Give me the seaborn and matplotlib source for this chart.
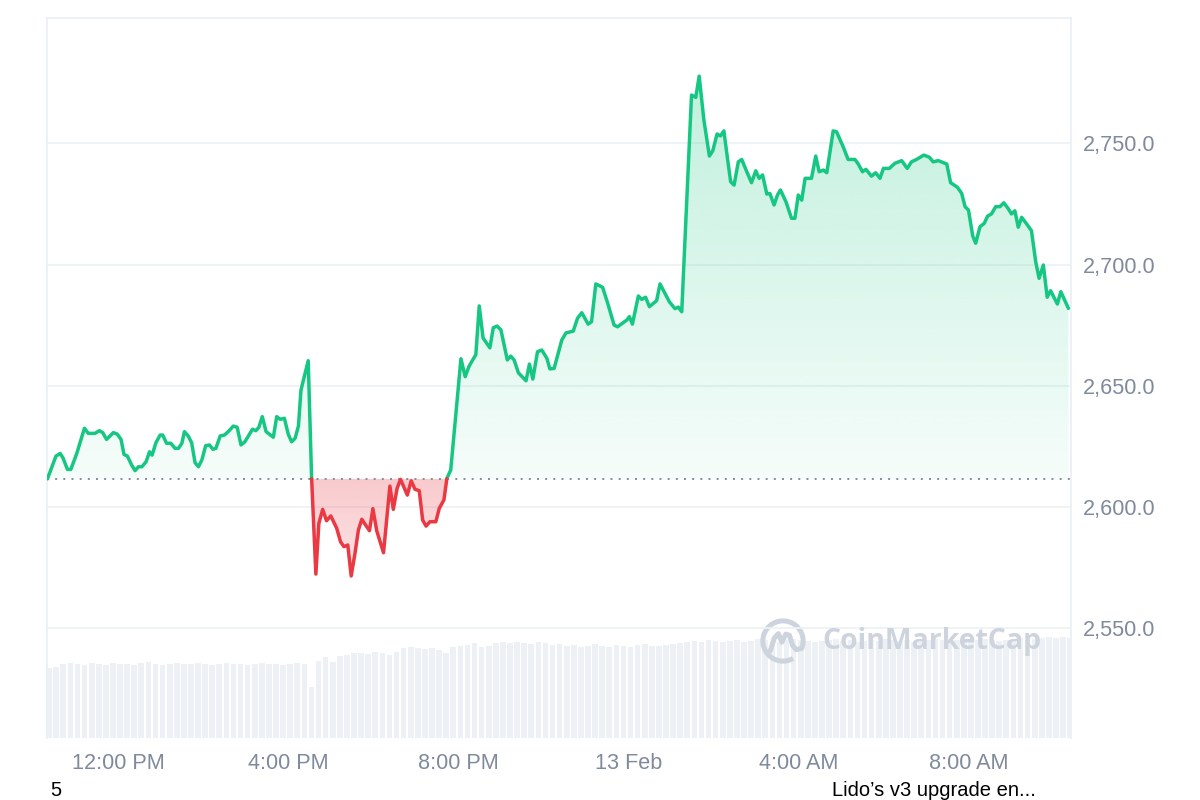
import numpy as np
import pandas as pd
import matplotlib
matplotlib.use("Agg")
import matplotlib.pyplot as plt
import matplotlib.colors as mcolors
from matplotlib.path import Path
from matplotlib.patches import Arc
import seaborn as sns

sns.set_theme(style="white")
plt.rcParams["font.family"] = ["Liberation Sans", "DejaVu Sans"]

# ---------------- data ----------------
# hours since 00:00 on 12 Feb
hours = [10.34, 10.54, 10.64, 10.71, 10.81, 10.89, 11.03, 11.21, 11.30, 11.46,
         11.56, 11.64, 11.73, 11.89, 11.98, 12.07, 12.14, 12.22, 12.32, 12.40,
         12.48, 12.56, 12.66, 12.74, 12.80, 12.89, 12.99, 13.05, 13.14, 13.24,
         13.34, 13.42, 13.50, 13.56, 13.65, 13.73, 13.81, 13.89, 13.97, 14.06,
         14.15, 14.23, 14.30, 14.40, 14.50, 14.59, 14.71, 14.80, 14.89, 14.98,
         15.16, 15.24, 15.31, 15.39, 15.48, 15.65, 15.73, 15.81, 15.91, 16.00,
         16.08, 16.16, 16.24, 16.30, 16.47, 16.55, 16.65, 16.72, 16.81, 16.90,
         17.00, 17.14, 17.23, 17.31, 17.40, 17.48, 17.57, 17.65, 17.73, 17.82,
         17.91, 17.99, 18.08, 18.24, 18.39, 18.47, 18.56, 18.64, 18.80, 18.89,
         18.98, 19.08, 19.16, 19.24, 19.33, 19.47, 19.55, 19.66, 19.73, 19.82,
         20.06, 20.16, 20.25, 20.41, 20.49, 20.58, 20.74, 20.82, 20.91, 21.00,
         21.15, 21.23, 21.31, 21.41, 21.59, 21.67, 21.75, 21.86, 21.96, 22.08,
         22.15, 22.25, 22.43, 22.53, 22.70, 22.80, 22.90, 23.05, 23.13, 23.23,
         23.39, 23.51, 23.66, 23.74, 23.96, 24.02, 24.09, 24.23, 24.31, 24.40,
         24.49, 24.66, 24.74, 24.96, 25.09, 25.17, 25.25, 25.48, 25.58, 25.66,
         25.77, 25.90, 25.98, 26.08, 26.16, 26.24, 26.32, 26.40, 26.48, 26.58,
         26.66, 26.78, 26.89, 26.99, 27.07, 27.15, 27.25, 27.32, 27.42, 27.50,
         27.57, 27.70, 27.83, 27.91, 27.99, 28.07, 28.15, 28.30, 28.40, 28.48,
         28.58, 28.66, 28.81, 28.89, 29.05, 29.16, 29.32, 29.40, 29.50, 29.58,
         29.71, 29.81, 29.91, 29.99, 30.13, 30.26, 30.42, 30.55, 30.65, 30.77,
         30.94, 31.07, 31.16, 31.28, 31.48, 31.57, 31.73, 31.83, 31.91, 31.99,
         32.09, 32.16, 32.26, 32.36, 32.44, 32.53, 32.63, 32.73, 32.82, 32.92,
         33.00, 33.08, 33.16, 33.24, 33.36, 33.47, 33.57, 33.65, 33.75, 33.84,
         33.92, 34.08, 34.16, 34.34]

prices = [2611.5, 2620.9, 2622.0, 2620.0, 2615.4, 2615.4, 2622.0, 2632.4, 2630.3, 2630.3,
          2631.4, 2630.6, 2627.8, 2630.6, 2630.0, 2627.8, 2621.6, 2620.9, 2617.2, 2614.9,
          2616.5, 2616.5, 2618.6, 2622.7, 2621.3, 2626.4, 2629.6, 2629.6, 2626.2, 2626.2,
          2624.1, 2624.1, 2626.2, 2631.0, 2629.2, 2626.4, 2618.2, 2616.5, 2619.3, 2625.2,
          2625.5, 2623.7, 2624.1, 2629.2, 2629.6, 2631.0, 2633.3, 2632.8, 2625.5, 2626.8,
          2632.0, 2631.4, 2632.8, 2637.2, 2631.0, 2628.7, 2637.2, 2636.1, 2636.5, 2630.0,
          2626.8, 2628.2, 2633.3, 2648.2, 2660.3, 2611.7, 2572.2, 2593.1, 2598.9, 2594.2,
          2596.2, 2591.1, 2585.5, 2583.5, 2584.2, 2571.4, 2580.8, 2590.4, 2594.8, 2592.4,
          2590.1, 2599.2, 2590.1, 2581.0, 2608.5, 2598.9, 2607.6, 2611.3, 2604.8, 2610.7,
          2607.2, 2606.6, 2594.5, 2592.0, 2593.8, 2593.8, 2599.3, 2602.8, 2611.7, 2615.2,
          2661.1, 2653.7, 2658.0, 2662.8, 2682.9, 2669.7, 2665.6, 2673.9, 2674.6, 2673.0,
          2660.6, 2662.2, 2660.6, 2655.3, 2652.0, 2658.9, 2652.7, 2664.0, 2664.7, 2661.3,
          2656.9, 2657.1, 2668.8, 2671.8, 2672.5, 2677.8, 2680.1, 2675.4, 2676.4, 2692.0,
          2690.6, 2684.0, 2675.0, 2674.3, 2677.1, 2678.5, 2675.4, 2687.0, 2685.6, 2686.5,
          2682.6, 2685.1, 2692.0, 2684.6, 2681.8, 2682.4, 2680.5, 2770.0, 2769.0, 2777.8,
          2759.7, 2744.8, 2747.0, 2753.9, 2753.1, 2755.2, 2744.5, 2734.2, 2732.8, 2742.4,
          2743.4, 2738.3, 2733.8, 2738.7, 2735.6, 2737.0, 2729.1, 2729.4, 2724.6, 2728.7,
          2730.8, 2725.9, 2719.1, 2719.1, 2728.7, 2726.6, 2735.6, 2735.6, 2744.8, 2738.3,
          2739.0, 2737.9, 2755.2, 2754.8, 2748.4, 2743.4, 2743.4, 2741.5, 2738.3, 2739.3,
          2736.5, 2737.9, 2735.6, 2739.7, 2739.7, 2741.8, 2742.9, 2739.7, 2742.4, 2743.4,
          2745.2, 2744.3, 2742.4, 2742.9, 2741.5, 2733.8, 2731.9, 2729.4, 2723.9, 2722.5,
          2711.8, 2708.8, 2715.6, 2717.0, 2720.0, 2720.9, 2723.9, 2723.9, 2725.5, 2723.2,
          2720.9, 2722.2, 2715.4, 2719.5, 2716.7, 2714.0, 2701.2, 2694.3, 2699.8, 2686.5,
          2689.2, 2683.7, 2688.8, 2681.9]

# volume bars (relative units), one per 10 minutes
volumes = [7.0, 7.1, 7.4, 7.5, 7.4, 7.3, 7.5, 7.4, 7.3, 7.5, 7.4, 7.4, 7.3, 7.5, 7.6, 7.4,
           7.3, 7.4, 7.5, 7.4, 7.4, 7.5, 7.4, 7.3, 7.4, 7.5, 7.4, 7.4, 7.3, 7.4, 7.5, 7.4,
           7.4, 7.3, 7.4, 7.5, 7.4,
           5.1,
           7.7, 8.1, 7.6, 8.2, 8.3, 8.5, 8.5, 8.4, 8.6, 8.5, 8.3, 8.6, 9.0, 9.1, 9.0, 8.9,
           9.0, 8.8, 8.5, 9.1, 9.2, 9.3, 9.5, 9.1, 9.2, 9.5, 9.6, 9.5, 9.6, 9.5, 9.4, 9.6,
           9.5, 9.3, 9.4,
           9.2, 9.3, 9.1, 9.2, 9.4, 9.2, 9.1, 9.3, 9.2, 9.1, 9.3, 9.4, 9.2, 9.2, 9.3, 9.4, 9.5,
           9.6, 9.7, 9.6, 9.8, 9.7, 9.6,
           9.7, 9.8, 9.6, 9.7, 9.9, 9.8, 9.7, 9.6, 9.8, 9.9, 9.8, 9.7, 9.6, 9.7, 9.8, 9.9,
           9.7, 9.8, 9.6, 9.7, 9.8, 9.7, 9.9, 9.8, 9.7, 9.8, 9.6, 9.7, 9.8, 9.9, 9.8, 9.7,
           9.8, 9.7, 9.6, 9.8, 9.9, 9.8, 9.7, 9.8, 9.9, 10.0, 9.8, 9.9, 10.0, 10.1, 10.0,
           10.1, 10.0]
vol_start_hour = 10.38
vol_step_hour = 1 / 6

x_tick_hours = [12, 16, 20, 24, 28, 32]
x_tick_labels = ["12:00 PM", "4:00 PM", "8:00 PM", "13 Feb", "4:00 AM", "8:00 AM"]
y_ticks = [2550.0, 2600.0, 2650.0, 2700.0, 2750.0]
news_left = "5"
news_right = "Lido\u2019s v3 upgrade en..."

GREEN = "#16c784"
RED = "#ea3943"
GRID = "#eff2f5"
TICK = "#808a9d"
FS = 15.6
FS_NEWS = 14.5

# ---------------- prepare line segments ----------------
t = np.array(hours)
p = np.array(prices)
base = p[0]

xs, ys = [t[0]], [p[0]]
for i in range(1, len(t)):
    if (p[i - 1] - base) * (p[i] - base) < 0:
        f = (base - p[i - 1]) / (p[i] - p[i - 1])
        xs.append(t[i - 1] + f * (t[i] - t[i - 1]))
        ys.append(base)
    xs.append(t[i])
    ys.append(p[i])
xs = np.array(xs)
ys = np.array(ys)

rows = []
seg = 0
cur = []


def finish(points, sid):
    yy = np.array([q[1] for q in points])
    d = "up" if (yy - base).mean() >= 0 else "down"
    return [{"t": a, "price": b, "seg": sid, "dir": d} for a, b in points]


for a, b in zip(xs, ys):
    cur.append((a, b))
    if b == base and len(cur) > 1:
        rows += finish(cur, seg)
        seg += 1
        cur = [(a, b)]
if len(cur) > 1:
    rows += finish(cur, seg)
df = pd.DataFrame(rows)

vol_df = pd.DataFrame({
    "t": vol_start_hour + vol_step_hour * np.arange(len(volumes)),
    "vol": volumes,
})

# ---------------- figure ----------------
fig = plt.figure(figsize=(12, 8), dpi=100)
fig.patch.set_facecolor("white")
ax = fig.add_axes([47 / 1200, 62 / 800, 1024 / 1200, 720 / 800])
ax2 = ax.twinx()
ax.set_zorder(ax2.get_zorder() + 1)
ax.patch.set_visible(False)
ax2.patch.set_facecolor("white")

# volume bars
ax2.bar(vol_df["t"], vol_df["vol"], width=vol_step_hour * 0.8,
        color="#edf0f4", linewidth=0)
ax2.set_ylim(0, 72.0)
ax2.set_yticks([])
for s in ax2.spines.values():
    s.set_visible(False)


def gradient_fill(axis, x, ytop, ybase, color, y0, a0, y1, a1):
    poly = axis.fill_between(x, ytop, ybase, facecolor="none", edgecolor="none")
    clip = Path.make_compound_path(*poly.get_paths())
    n = 256
    grad = np.zeros((n, 1, 4))
    grad[:, :, :3] = mcolors.to_rgb(color)
    grad[:, 0, 3] = np.linspace(a0, a1, n)
    im = axis.imshow(grad, aspect="auto", origin="lower",
                     extent=[x.min(), x.max(), y0, y1], zorder=1,
                     interpolation="bilinear")
    im.set_clip_path(clip, axis.transData)


gradient_fill(ax, xs, np.maximum(ys, base), base, GREEN, base, 0.04, 2780, 0.27)
gradient_fill(ax, xs, np.minimum(ys, base), base, RED, 2570, 0.13, base, 0.27)

ax.axhline(base, color="#858c99", lw=1.4, ls=(0, (1, 3.2)), zorder=2)

sns.lineplot(data=df, x="t", y="price", hue="dir", units="seg", estimator=None,
             palette={"up": GREEN, "down": RED}, linewidth=2.5, legend=False,
             sort=False, ax=ax, zorder=3, solid_joinstyle="round",
             solid_capstyle="round")

ax.set_xlim(10.33, 34.40)
ax.set_ylim(2504.5, 2801.8)
ax.set_xlabel("")
ax.set_ylabel("")

ax.set_yticks(y_ticks)
ax.set_yticklabels([f"{v:,.1f}" for v in y_ticks])
ax.yaxis.tick_right()
ax.set_xticks(x_tick_hours)
ax.set_xticklabels(x_tick_labels)
ax.tick_params(axis="y", length=0, pad=8.6, labelsize=FS, labelcolor=TICK)
ax.tick_params(axis="x", length=0, pad=11, labelsize=FS, labelcolor=TICK)
ax.grid(axis="y", color=GRID, lw=1.3)
ax.grid(axis="x", visible=False)
ax.set_axisbelow(True)
for side in ["left", "top", "right"]:
    ax.spines[side].set_color("#eceff3")
    ax.spines[side].set_linewidth(1.3)
ax.spines["bottom"].set_visible(False)

# watermark
WM = "#cdd4de"
fig.text(822 / 1200, 1 - 641 / 800, "CoinMarketCap", fontsize=20.4,
         fontweight="bold", color=WM, va="center", ha="left",
         family=["Open Sans", "DejaVu Sans"])
lax = fig.add_axes([760 / 1200, (800 - 664) / 800, 46 / 1200, 46 / 800])
lax.set_xlim(-1, 1)
lax.set_ylim(-1, 1)
lax.axis("off")
lax.add_patch(Arc((0, 0), 1.75, 1.75, theta1=-20, theta2=300, lw=3.6, color=WM))
lax.plot([-0.55, -0.38, -0.2, -0.05, 0.12, 0.28, 0.42, 0.58, 0.82],
         [-0.42, 0.12, 0.32, -0.05, 0.3, 0.25, -0.2, -0.38, -0.32],
         color=WM, lw=3.6, solid_capstyle="round", solid_joinstyle="round")

# news ticker fragments
fig.text(50 / 1200, 1 - 795.5 / 800, news_left, fontsize=FS_NEWS, color="black",
         ha="left", va="baseline")
fig.text(832 / 1200, 1 - 795.5 / 800, news_right, fontsize=FS_NEWS, color="black",
         ha="left", va="baseline")

fig.savefig("out.png", dpi=100, facecolor="white")
